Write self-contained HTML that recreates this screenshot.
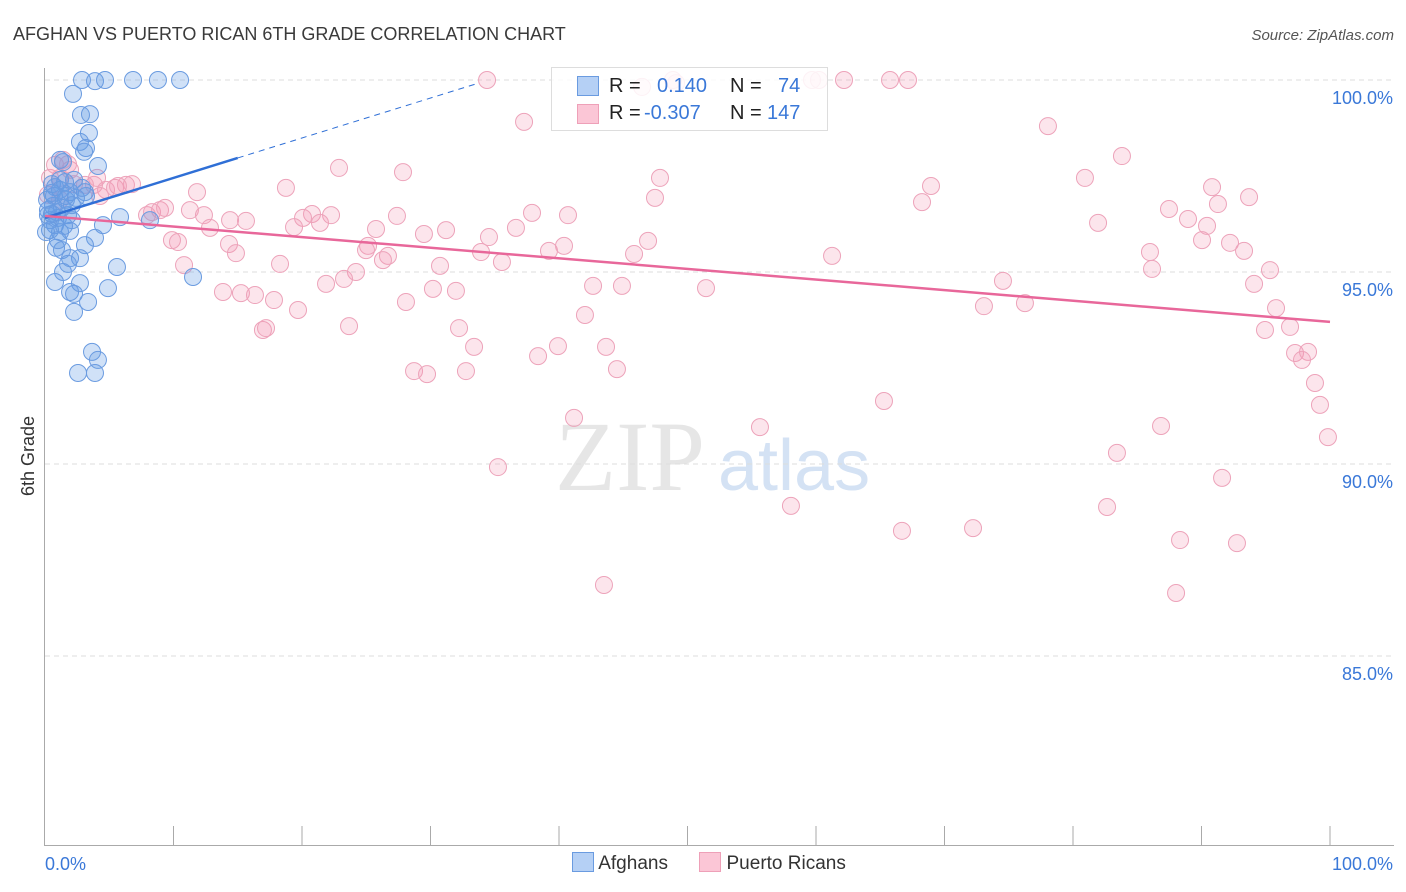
<!DOCTYPE html>
<html><head><meta charset="utf-8"><style>
body{margin:0;background:#fff;font-family:"Liberation Sans",sans-serif;}
#wrap{position:relative;width:1406px;height:892px;overflow:hidden;}
</style></head><body>
<div id="wrap">
<svg id="svg" width="1406" height="892" xmlns="http://www.w3.org/2000/svg">
<text x="13" y="40" font-size="18" fill="#3a3a3a">AFGHAN VS PUERTO RICAN 6TH GRADE CORRELATION CHART</text>
<text x="1394" y="40" font-size="15" fill="#555" font-style="italic" text-anchor="end">Source: ZipAtlas.com</text>
<text x="34" y="456" font-size="18" fill="#333" transform="rotate(-90 34 456)" text-anchor="middle">6th Grade</text>
<text x="555" y="490" font-size="100" fill="#e6e6e6" font-family="Liberation Serif,serif">ZIP</text>
<text x="718" y="490" font-size="72" fill="#d4e2f4">atlas</text>
<g id="grid"></g><g id="axes"></g><g id="pts"></g><g id="trend"></g>
</svg>
<div style="position:absolute;left:551px;top:67px;width:275px;height:62px;border:1px solid #ddd;background:rgba(255,255,255,0.85);font-size:20px;">
 <div style="position:absolute;left:25px;top:8px;width:20px;height:18px;background:#b5d0f5;border:1px solid #6a9be0"></div>
 <div style="position:absolute;left:57px;top:7px;color:#222">R = </div>
 <div style="position:absolute;left:105px;top:7px;color:#3a78d8">0.140</div>
 <div style="position:absolute;left:178px;top:7px;color:#222">N = </div>
 <div style="position:absolute;left:226px;top:7px;color:#3a78d8">74</div>
 <div style="position:absolute;left:25px;top:36px;width:20px;height:18px;background:#fbc6d6;border:1px solid #eea0b8"></div>
 <div style="position:absolute;left:57px;top:34px;color:#222">R = </div>
 <div style="position:absolute;left:92px;top:34px;color:#3a78d8">-0.307</div>
 <div style="position:absolute;left:178px;top:34px;color:#222">N = </div>
 <div style="position:absolute;left:215px;top:34px;color:#3a78d8">147</div>
</div>
<div style="position:absolute;top:852px;left:572px;font-size:19px;color:#333">
 <span><span style="display:inline-block;width:20px;height:18px;background:#b5d0f5;border:1px solid #6a9be0;vertical-align:-3px"></span> Afghans</span>
 <span style="margin-left:26px"><span style="display:inline-block;width:20px;height:18px;background:#fbc6d6;border:1px solid #eea0b8;vertical-align:-3px"></span> Puerto Ricans</span>
</div>
</div>
<script>
const yTicks=[100,95,90,85];
const xTickLabels=["0.0%","100.0%"];
const bluePx=[[82,80],[95,81],[105,80],[133,80],[158,80],[180,80],[73,94],[81,115],[90,114],[80,142],[89,133],[86,148],[84,152],[98,166],[60,160],[63,162],[52,184],[55,187],[60,190],[74,180],[70,192],[85,192],[53,206],[58,218],[68,215],[72,220],[50,220],[55,225],[70,231],[60,232],[120,217],[150,220],[103,225],[95,238],[85,245],[56,248],[62,250],[70,258],[80,258],[68,264],[63,272],[117,267],[193,277],[55,282],[80,283],[108,288],[70,292],[74,294],[88,302],[74,312],[92,352],[98,360],[78,373],[95,373],[48,210],[48,215],[50,230],[58,240],[66,200],[62,208],[54,196],[76,198],[86,196],[46,232],[52,193],[65,182],[57,212],[64,226],[82,188],[52,214],[60,180],[66,196],[72,205],[47,200]];
const pinkPx=[[487,80],[642,87],[673,80],[676,83],[812,80],[819,80],[844,80],[890,80],[908,80],[524,122],[1048,126],[1122,156],[339,168],[403,172],[286,188],[197,192],[660,178],[1085,178],[1212,187],[931,186],[655,198],[1249,197],[922,202],[1218,204],[1169,209],[1188,219],[1098,223],[568,215],[532,213],[397,216],[312,214],[331,215],[303,218],[190,210],[204,215],[147,215],[152,212],[160,210],[165,208],[230,220],[210,228],[246,221],[294,227],[320,223],[376,229],[424,234],[446,230],[516,228],[489,237],[1207,226],[1202,240],[1230,243],[1244,251],[1150,252],[172,240],[178,242],[229,244],[236,253],[368,246],[366,250],[388,256],[383,260],[481,252],[502,262],[549,251],[564,246],[634,254],[648,241],[832,256],[440,266],[356,272],[344,279],[326,284],[280,264],[184,265],[1152,269],[1270,270],[1003,281],[1254,284],[1276,308],[223,292],[241,293],[255,295],[274,300],[298,310],[433,289],[456,291],[593,286],[622,286],[706,288],[406,302],[1025,303],[984,306],[585,315],[1265,330],[1290,327],[349,326],[459,328],[263,330],[266,328],[474,347],[558,346],[606,347],[538,356],[1295,353],[1308,352],[1302,360],[414,371],[427,374],[466,371],[617,369],[1315,383],[1320,405],[884,401],[574,418],[760,427],[1161,426],[1328,437],[498,467],[1117,453],[1222,478],[791,506],[1107,507],[902,531],[973,528],[1180,540],[1237,543],[604,585],[1176,593],[50,178],[60,178],[70,170],[74,184],[94,185],[106,190],[115,188],[126,185],[132,184],[55,165],[63,160],[68,164],[48,195],[60,200],[97,178],[85,185],[100,196],[118,186]];
// convert sampled pixel reads to data values (percent)
const blueX=bluePx.map(p=>+((p[0]-45)/12.85).toFixed(2));
const blueY=bluePx.map(p=>+(100-(p[1]-80)/38.4).toFixed(2));
const pinkX=pinkPx.map(p=>+((p[0]-45)/12.85).toFixed(2));
const pinkY=pinkPx.map(p=>+(100-(p[1]-80)/38.4).toFixed(2));
const blueTrend=[96.41,97.97]; // at x=0, x=15
const pinkTrend=[96.46,93.70]; // at x=0, x=100
const X=v=>45+v*12.85, Y=v=>80+(100-v)*38.4;
const NS="http://www.w3.org/2000/svg";
function mk(tag,attrs,parent){const e=document.createElementNS(NS,tag);for(const k in attrs)e.setAttribute(k,attrs[k]);document.getElementById(parent).appendChild(e);return e;}
yTicks.forEach(t=>{
 const l=mk('line',{x1:45,x2:1394,y1:Y(t),y2:Y(t),stroke:'#ddd','stroke-dasharray':'5,4'},'grid');
 
 
 const tx=mk('text',{x:1393,y:Y(t)+24,'text-anchor':'end','font-size':18,fill:'#3a78d8'},'grid');
 tx.textContent=t.toFixed(1)+'%';
 
 
});
const ya=mk('line',{x1:44.5,x2:44.5,y1:68,y2:846,stroke:'#aaa'},'axes');


const xa=mk('line',{x1:44,x2:1394,y1:845.5,y2:845.5,stroke:'#aaa'},'axes');


for(let i=1;i<=10;i++){const t=mk('line',{x1:X(i*10),x2:X(i*10),y1:826,y2:846,stroke:'#aaa'},'axes');
 
 }
[[45,'start',0],[1393,'end',1]].forEach(a=>{const t=mk('text',{x:a[0],y:870,'text-anchor':a[1],'font-size':18,fill:'#3a78d8'},'axes');t.textContent=xTickLabels[a[2]];
 
 });
pinkX.forEach((x,i)=>{const c=mk('circle',{cx:X(x),cy:Y(pinkY[i]),r:8.5,fill:'rgba(245,150,180,0.25)',stroke:'#eda3ba','stroke-width':1},'pts');
 
 });
blueX.forEach((x,i)=>{const c=mk('circle',{cx:X(x),cy:Y(blueY[i]),r:8.5,fill:'rgba(100,155,230,0.3)',stroke:'#6a9be0','stroke-width':1},'pts');
 
 });
const bs=(blueTrend[1]-blueTrend[0])/15;
const b1=mk('line',{x1:X(0),y1:Y(blueTrend[0]),x2:X(15),y2:Y(blueTrend[1]),stroke:'#2f6fd6','stroke-width':2.5},'trend');


const b2=mk('line',{x1:X(15),y1:Y(blueTrend[1]),x2:X(33.8),y2:Y(blueTrend[0]+bs*33.8),stroke:'#2f6fd6','stroke-width':1,'stroke-dasharray':'6,5'},'trend');


const p1=mk('line',{x1:X(0),y1:Y(pinkTrend[0]),x2:X(100),y2:Y(pinkTrend[1]),stroke:'#e8679a','stroke-width':2.5},'trend');


</script>
</body></html>
